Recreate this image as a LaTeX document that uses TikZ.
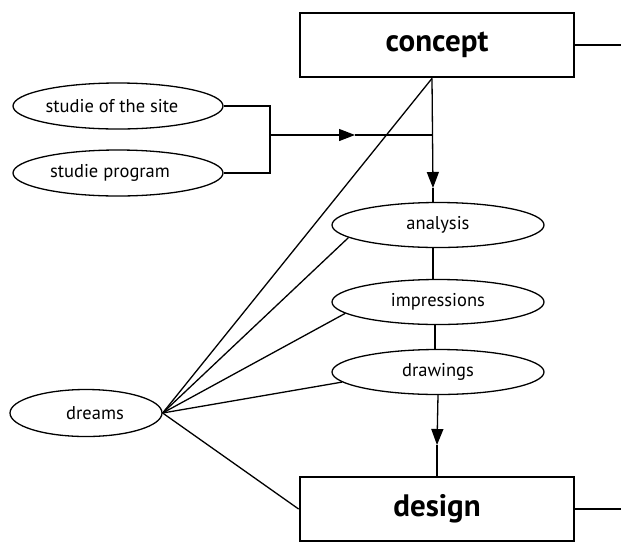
\documentclass[tikz,border=0pt]{standalone}
\usepackage{fontspec}
\setmainfont{PT Sans}
\usetikzlibrary{shapes.geometric,arrows.meta}
\begin{document}
\begin{tikzpicture}[x=1pt,y=-1pt,
  line width=1.3pt,
  oval/.style={ellipse,draw,line width=1.3pt,inner sep=0pt,
    minimum width=212pt,minimum height=45pt,font=\fontsize{18.5}{20}\selectfont},
  stagebox/.style={rectangle,draw,line width=2.8pt,inner sep=0pt,
    minimum width=274pt,minimum height=64pt,font=\fontsize{31}{34}\selectfont\bfseries},
  tip/.style={-{Triangle[length=16pt,width=12pt]}}
]
\useasboundingbox (0,0) rectangle (621,547);

% main stages
\node[stagebox] (concept) at (437,45) {concept};
\node[stagebox] (design)  at (437,509) {design};

% inputs on the left
\node[oval,minimum width=210pt,minimum height=46pt] (site) at (118,106) {\hspace*{-12pt}studie of the site};
\node[oval,minimum width=210pt,minimum height=46pt] (prog) at (118,173) {\hspace*{-16pt}studie program};
\node[oval,minimum width=152pt,minimum height=47pt] (dreams) at (86,413) {dreams\hspace*{-18pt}};

% the working steps
\node[oval] (analysis)    at (438,225) {analysis};
\node[oval] (impressions) at (438,302) {impressions};
\node[oval] (drawings)    at (438,372) {drawings};

% helper points
\coordinate (cs) at ([xshift=-5pt]concept.south);
\coordinate (bt) at (270,0 |- site.east);
\coordinate (bb) at (270,0 |- prog.east);
\coordinate (bm) at (270,135);
\coordinate (hm) at (355,135);
\coordinate (hj) at (cs |- bm);
\coordinate (va) at (433,188);
\coordinate (vd) at (437,445);
\coordinate (cr) at (621,0 |- concept.east);
\coordinate (dr) at (621,0 |- design.east);

% lines leaving to the right
\draw (concept.east) -- (cr);
\draw (design.east) -- (dr);

% bracket joining the two studies
\draw (site.east) -- (bt) -- (bb) -- (prog.east);
\draw[tip] (bm) -- (hm);
\draw (hm) -- (hj);

% vertical chain
\draw[tip] (cs) -- (va);
\draw (va) -- (va |- analysis.north);
\draw (433,0 |- analysis.south) -- (433,0 |- impressions.north);
\draw (435,0 |- impressions.south) -- (435,0 |- drawings.north);
\draw[tip] (drawings.south) -- (vd);
\draw (vd) -- (design.north);

% dreams feed into every stage
\draw (dreams.east) -- (cs);
\draw (dreams.east) -- (analysis.188);
\draw (dreams.east) -- (impressions.187);
\draw (dreams.east) -- (drawings.186);
\draw (dreams.east) -- (design.west);
\end{tikzpicture}
\end{document}
